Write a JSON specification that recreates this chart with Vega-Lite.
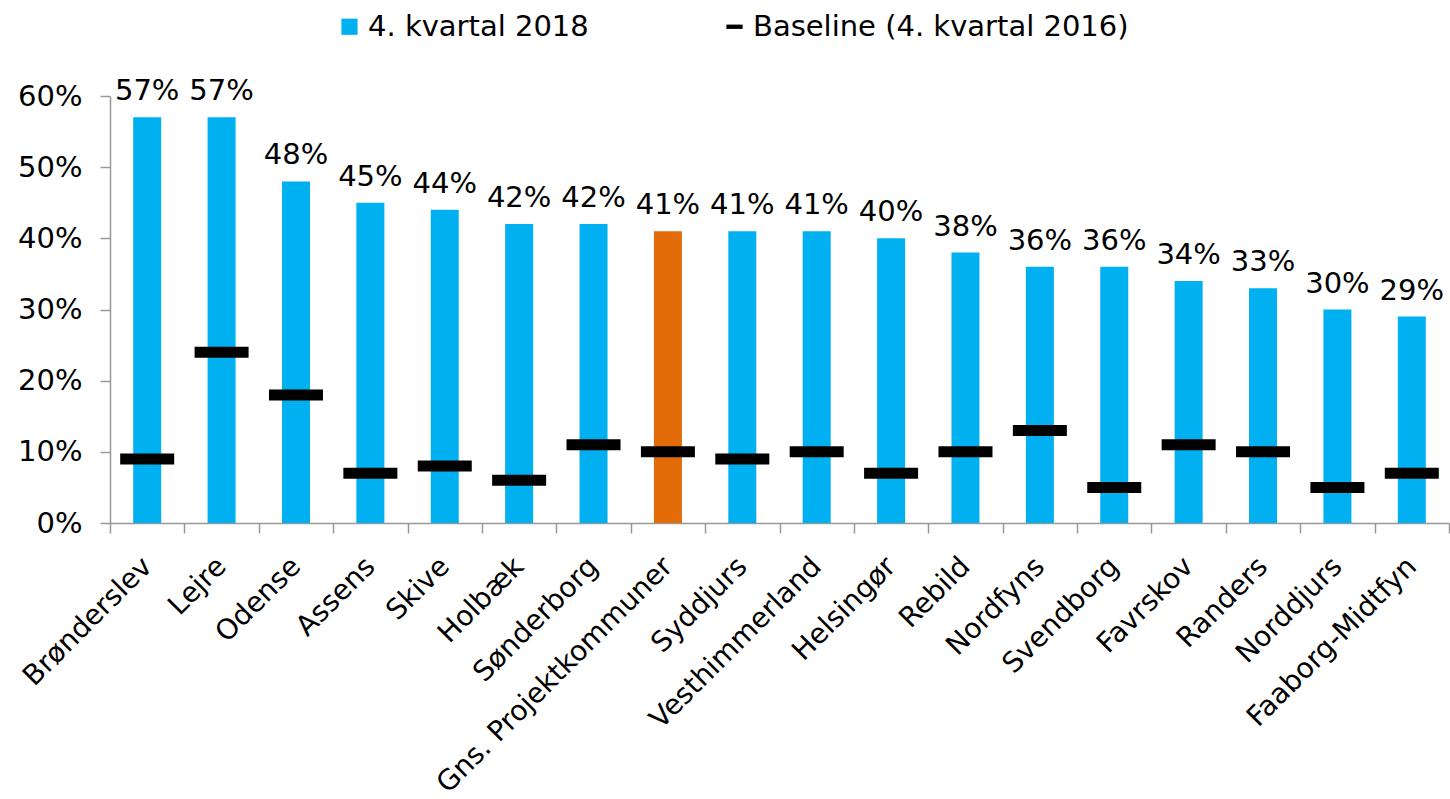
{
  "$schema": "https://vega.github.io/schema/vega-lite/v6.json",
  "width": 1339,
  "height": 427,
  "autosize": {"type": "none"},
  "padding": {"left": 110, "top": 96, "right": 1, "bottom": 276},
  "background": "white",
  "config": {
    "view": {"stroke": null},
    "font": "DejaVu Sans",
    "axis": {"labelFont": "DejaVu Sans", "labelColor": "black", "domainColor": "#999999", "tickColor": "#999999", "domainWidth": 1.5, "tickWidth": 1.5, "grid": false, "title": null}
  },
  "data": {
    "values": [
      {"kommune": "Brønderslev", "value": 0.57, "baseline": 0.09},
      {"kommune": "Lejre", "value": 0.57, "baseline": 0.24},
      {"kommune": "Odense", "value": 0.48, "baseline": 0.18},
      {"kommune": "Assens", "value": 0.45, "baseline": 0.07},
      {"kommune": "Skive", "value": 0.44, "baseline": 0.08},
      {"kommune": "Holbæk", "value": 0.42, "baseline": 0.06},
      {"kommune": "Sønderborg", "value": 0.42, "baseline": 0.11},
      {"kommune": "Gns. Projektkommuner", "value": 0.41, "baseline": 0.10},
      {"kommune": "Syddjurs", "value": 0.41, "baseline": 0.09},
      {"kommune": "Vesthimmerland", "value": 0.41, "baseline": 0.10},
      {"kommune": "Helsingør", "value": 0.40, "baseline": 0.07},
      {"kommune": "Rebild", "value": 0.38, "baseline": 0.10},
      {"kommune": "Nordfyns", "value": 0.36, "baseline": 0.13},
      {"kommune": "Svendborg", "value": 0.36, "baseline": 0.05},
      {"kommune": "Favrskov", "value": 0.34, "baseline": 0.11},
      {"kommune": "Randers", "value": 0.33, "baseline": 0.10},
      {"kommune": "Norddjurs", "value": 0.30, "baseline": 0.05},
      {"kommune": "Faaborg-Midtfyn", "value": 0.29, "baseline": 0.07}
    ]
  },
  "encoding": {
    "x": {
      "field": "kommune",
      "type": "nominal",
      "sort": null,
      "scale": {"paddingInner": 0, "paddingOuter": 0},
      "axis": {
        "labelAngle": -45,
        "labelAlign": "right",
        "labelBaseline": "middle",
        "labelFontSize": 28,
        "labelPadding": 29,
        "tickSize": 10,
        "tickBand": "extent",
        "labelLimit": 0,
        "labelOverlap": false
      }
    }
  },
  "layer": [
    {
      "mark": {"type": "bar", "size": 28},
      "encoding": {
        "y": {
          "field": "value",
          "type": "quantitative",
          "scale": {"domain": [0, 0.6]},
          "axis": {"values": [0, 0.1, 0.2, 0.3, 0.4, 0.5, 0.6], "format": ".0%", "labelFontSize": 29, "tickSize": 10, "labelPadding": 18}
        },
        "color": {
          "datum": "4. kvartal 2018",
          "condition": {"test": "datum.kommune === 'Gns. Projektkommuner'", "value": "#E36C09"},
          "scale": {"domain": ["4. kvartal 2018", "Baseline (4. kvartal 2016)"], "range": ["#00B0F0", "#000000"]},
          "legend": {
            "title": null,
            "orient": "none",
            "direction": "horizontal",
            "legendX": 225,
            "legendY": -84,
            "labelFontSize": 29,
            "labelFont": "DejaVu Sans",
            "labelColor": "black",
            "labelOffset": 4,
            "columnPadding": 131,
            "symbolSize": 324,
            "symbolOpacity": 1,
            "symbolStrokeWidth": 0,
            "labelLimit": 0,
            "encode": {
              "symbols": {
                "update": {
                  "shape": {"signal": "datum.value === 'Baseline (4. kvartal 2016)' ? 'M-0.9,-0.24H0.9V0.24H-0.9Z' : 'M-0.9,-0.9H0.9V0.9H-0.9Z'"},
                  "strokeWidth": {"value": 0}
                }
              }
            }
          }
        }
      }
    },
    {
      "mark": {"type": "tick", "size": 54, "thickness": 11, "opacity": 1},
      "encoding": {
        "y": {"field": "baseline", "type": "quantitative"},
        "color": {"datum": "Baseline (4. kvartal 2016)"}
      }
    },
    {
      "mark": {"type": "text", "baseline": "alphabetic", "dy": -17, "fontSize": 29, "color": "black"},
      "encoding": {
        "y": {"field": "value", "type": "quantitative"},
        "text": {"field": "value", "type": "quantitative", "format": ".0%"}
      }
    }
  ]
}
